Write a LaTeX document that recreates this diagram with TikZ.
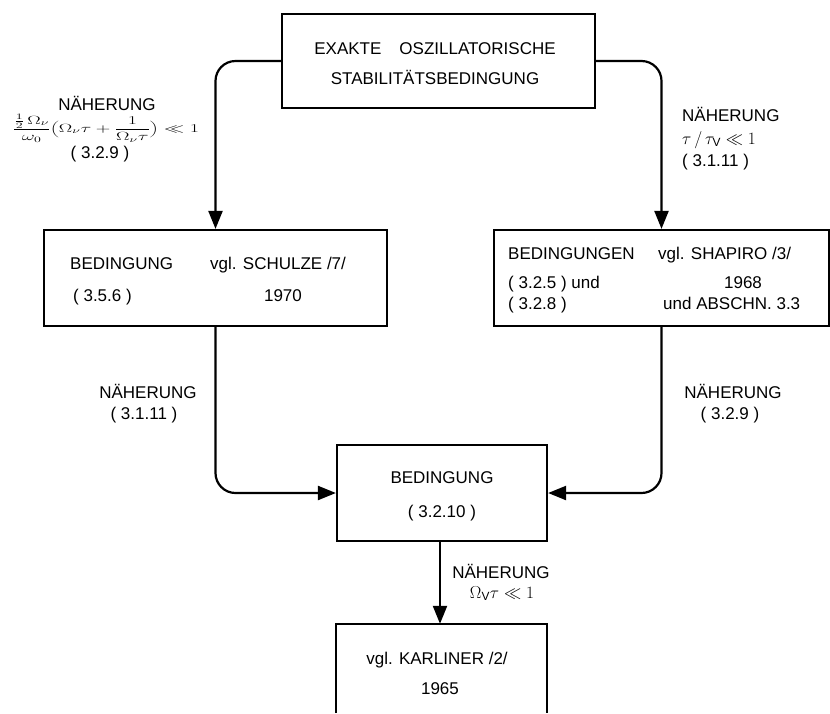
\documentclass[tikz,border=0pt]{standalone}
\usepackage{fontspec}
\usepackage{graphicx}
\setmainfont{Liberation Sans}
\usetikzlibrary{arrows.meta}
\begin{document}
\begin{tikzpicture}[x=1pt,y=-1pt,
  boxst/.style={draw, line width=2.2pt, rectangle, inner sep=0pt},
  txt/.style={inner sep=0pt, font=\fontsize{17}{20}\selectfont},
  conn/.style={line width=2.2pt, rounded corners=20pt, -{Triangle[length=18pt,width=14pt]}}
]
\useasboundingbox (0,0) rectangle (830,713);

% boxes
\node[boxst, minimum width=313pt, minimum height=94pt] (top) at (438.5,61) {};
\node[boxst, minimum width=343pt, minimum height=96pt] (left) at (215.5,278) {};
\node[boxst, minimum width=335pt, minimum height=96pt] (right) at (661.5,278) {};
\node[boxst, minimum width=210pt, minimum height=96pt] (mid) at (442,493) {};
\node[inner sep=0pt, minimum width=211pt, minimum height=89pt] (bot) at (441.5,668.5) {};
\draw[line width=2.2pt] (bot.south west) -- (bot.north west) -- (bot.north east) -- (bot.south east);

% texts in boxes
\node[txt, anchor=base] (t1) at (435,54) {EXAKTE\hspace{18pt}OSZILLATORISCHE};
\node[txt, anchor=base] (t2) at (435,84) {STABILITÄTSBEDINGUNG};

\node[txt, anchor=base west] (l1) at (70,269) {BEDINGUNG};
\node[txt, anchor=base west] (l2) at (73,301) {( 3.5.6 )};
\node[txt, anchor=base west] (l3) at (210,269) {vgl. SCHULZE /7/};
\node[txt, anchor=base] (l4) at (283,301) {1970};

\node[txt, anchor=base west] (r1) at (508,259) {BEDINGUNGEN};
\node[txt, anchor=base west] (r2) at (508,288) {( 3.2.5 ) und};
\node[txt, anchor=base west] (r3) at (508,309) {( 3.2.8 )};
\node[txt, anchor=base west] (r4) at (658,259) {vgl. SHAPIRO /3/};
\node[txt, anchor=base] (r5) at (743,288) {1968};
\node[txt, anchor=base west] (r6) at (663,309) {und ABSCHN. 3.3};

\node[txt, anchor=base] (m1) at (442,483) {BEDINGUNG};
\node[txt, anchor=base] (m2) at (442,517) {( 3.2.10 )};

\node[txt, anchor=base] (k1) at (437,664) {vgl. KARLINER /2/};
\node[txt, anchor=base] (k2) at (440,694) {1965};

% connectors
\draw[conn] (top.west) -| (left.north);
\draw[conn] (top.east) -| (right.north);
\draw[conn] (left.south) |- (mid.west);
\draw[conn] (right.south) |- (mid.east);
\draw[conn] (mid.south -| k2) -- (bot.north -| k2);

% connector labels
\node[txt, anchor=base] (la1) at (107,110) {NÄHERUNG};
\node[txt] (la2) at (106,128) {\resizebox*{186pt}{28pt}{$\displaystyle\frac{\frac{1}{2}\,\Omega_\nu}{\omega_0}\biggl(\Omega_\nu\tau+\frac{1}{\Omega_\nu\tau}\biggr)\ll 1$}};
\node[txt, anchor=base] (la3) at (100,158) {( 3.2.9 )};

\node[txt, anchor=base west] (ra1) at (682,121) {NÄHERUNG};
\node[txt, anchor=base west] (ra2) at (682,144) {$\tau\,/\,\tau_{\mathrm{V}} \ll 1$};
\node[txt, anchor=base west] (ra3) at (682,166) {( 3.1.11 )};

\node[txt, anchor=base] (lb1) at (148,398) {NÄHERUNG};
\node[txt, anchor=base] (lb2) at (144,419) {( 3.1.11 )};

\node[txt, anchor=base] (rb1) at (733,398) {NÄHERUNG};
\node[txt, anchor=base] (rb2) at (730,419) {( 3.2.9 )};

\node[txt, anchor=base] (bl1) at (501,578) {NÄHERUNG};
\node[txt, anchor=base] (bl2) at (502,598) {$\Omega_{\mathrm{V}}\tau \ll 1$};
\end{tikzpicture}
\end{document}
